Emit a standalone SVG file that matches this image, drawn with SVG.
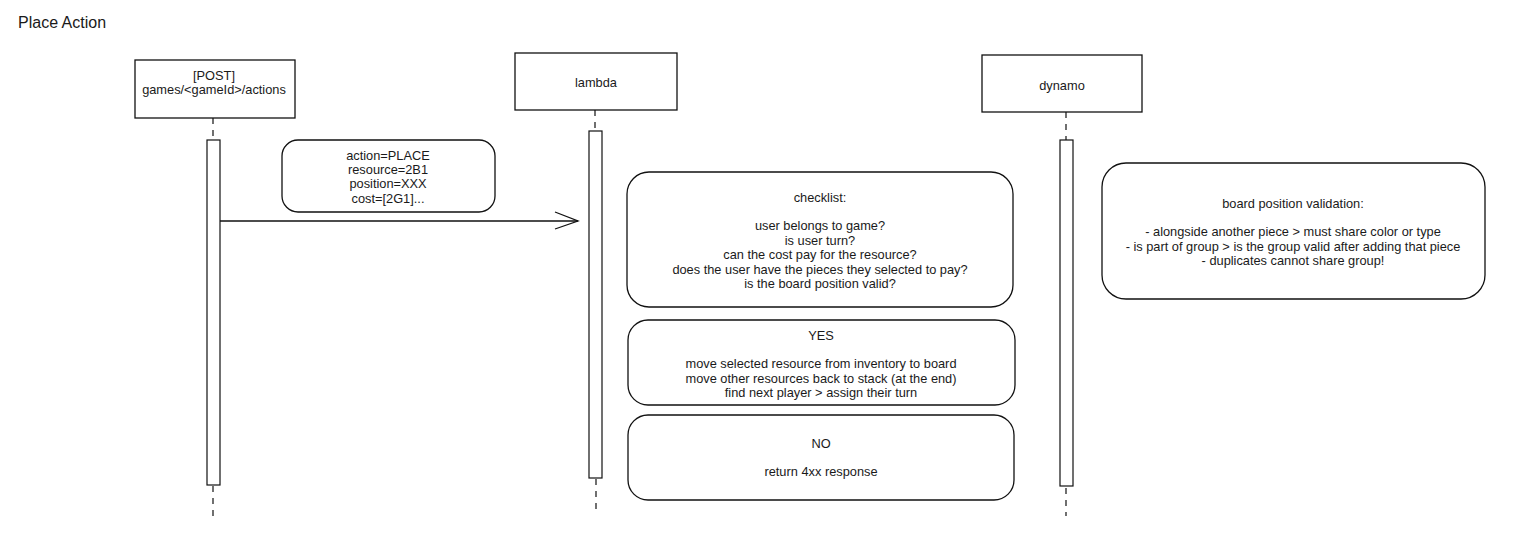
<svg xmlns="http://www.w3.org/2000/svg" width="1523" height="539" viewBox="0 0 1523 539">
<style>
  .box { fill: #ffffff; stroke: #111111; stroke-width: 1.3; }
  .bar { fill: #ffffff; stroke: #111111; stroke-width: 1.2; }
  .life { fill: none; stroke: #111111; stroke-width: 1.2; stroke-dasharray: 6 6; }
  .conn { fill: none; stroke: #111111; stroke-width: 1.3; }
  text { font-family: "Liberation Sans", Arial, Helvetica, sans-serif; font-size: 12.8px; fill: #1a1a1a; text-anchor: middle; }
  .title { font-size: 16px; text-anchor: start; }
</style>
<rect width="1523" height="539" fill="#ffffff"/>
<text class="title" x="18" y="28">Place Action</text>

<g id="connectors">
  <line class="life" x1="213" y1="118" x2="213" y2="140"/>
  <line class="life" x1="213" y1="486" x2="213" y2="521"/>
  <line class="life" x1="595" y1="110" x2="595" y2="130"/>
  <line class="life" x1="596" y1="479" x2="596" y2="514"/>
  <line class="life" x1="1066" y1="112" x2="1066" y2="140"/>
  <line class="life" x1="1066" y1="488" x2="1066" y2="516"/>
  <line class="conn" x1="220" y1="221" x2="578" y2="221"/>
  <polyline class="conn" points="555,212 578,221 555,229"/>
</g>

<g id="node-post">
  <rect class="box" x="135" y="60" width="160" height="58"/>
  <text x="214" y="79.5">[POST]</text>
  <text x="214" y="94">games/&lt;gameId&gt;/actions</text>
</g>
<g id="node-post-bar">
  <rect class="bar" x="207" y="140" width="13" height="345"/>
</g>

<g id="node-lambda">
  <rect class="box" x="515" y="53" width="162" height="57"/>
  <text x="596" y="87">lambda</text>
</g>
<g id="node-lambda-bar">
  <rect class="bar" x="589" y="131" width="13" height="347"/>
</g>

<g id="node-dynamo">
  <rect class="box" x="982" y="55" width="160" height="57"/>
  <text x="1062" y="89.5">dynamo</text>
</g>
<g id="node-dynamo-bar">
  <rect class="bar" x="1060" y="140" width="13" height="346"/>
</g>

<g id="node-payload">
  <rect class="box" x="282" y="140" width="213" height="72" rx="16" ry="16"/>
  <text x="388" y="159.5">action=PLACE</text>
  <text x="388" y="173.9">resource=2B1</text>
  <text x="388" y="188.3">position=XXX</text>
  <text x="388" y="202.7">cost=[2G1]...</text>
</g>

<g id="node-checklist">
  <rect class="box" x="627" y="172" width="386" height="135" rx="22" ry="22"/>
  <text x="820" y="201.5">checklist:</text>
  <text x="820" y="230.3">user belongs to game?</text>
  <text x="820" y="244.7">is user turn?</text>
  <text x="820" y="259.1">can the cost pay for the resource?</text>
  <text x="820" y="273.5">does the user have the pieces they selected to pay?</text>
  <text x="820" y="287.9">is the board position valid?</text>
</g>

<g id="node-yes">
  <rect class="box" x="628" y="320" width="387" height="85" rx="20" ry="20"/>
  <text x="821" y="339.5">YES</text>
  <text x="821" y="368.3">move selected resource from inventory to board</text>
  <text x="821" y="382.7">move other resources back to stack (at the end)</text>
  <text x="821" y="397.1">find next player &gt; assign their turn</text>
</g>

<g id="node-no">
  <rect class="box" x="628" y="415" width="386" height="85" rx="20" ry="20"/>
  <text x="821" y="447.5">NO</text>
  <text x="821" y="476.3">return 4xx response</text>
</g>

<g id="node-board">
  <rect class="box" x="1102" y="163" width="383" height="136" rx="24" ry="24"/>
  <text x="1293" y="207.5">board position validation:</text>
  <text x="1293" y="236.3">- alongside another piece &gt; must share color or type</text>
  <text x="1293" y="250.7">- is part of group &gt; is the group valid after adding that piece</text>
  <text x="1293" y="265.1">- duplicates cannot share group!</text>
</g>
</svg>
